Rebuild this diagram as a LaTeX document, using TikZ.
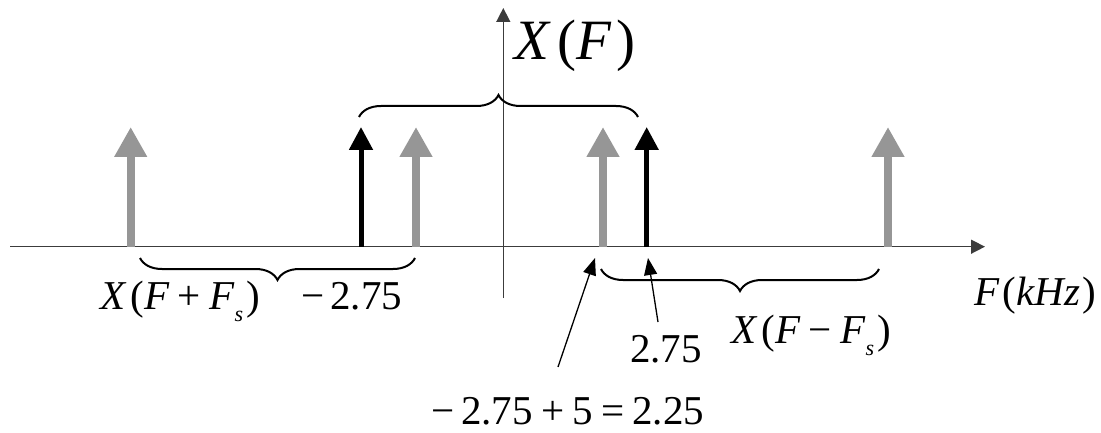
\documentclass[tikz,border=0pt]{standalone}
\usepackage{fontspec}
\setmainfont{Liberation Serif}
\usetikzlibrary{arrows.meta,decorations.pathreplacing}
\definecolor{stemgray}{RGB}{150,150,150}
\definecolor{axisgray}{RGB}{60,60,60}
\newcommand{\fsub}{\raisebox{-0.3em}{\fontsize{22}{22}\selectfont\textit{s}}}
\newcommand{\mminus}{\hspace{0.2em}−\hspace{0.2em}}
\newcommand{\mplus}{\hspace{0.2em}+\hspace{0.2em}}
\tikzset{
  axisline/.style={draw=axisgray,line width=1.5pt,-{Triangle[width=14pt,length=14pt]}},
  graystem/.style={draw=stemgray,line width=8pt,-{Triangle[width=31pt,length=30pt]}},
  blackstem/.style={draw=black,line width=5pt,-{Triangle[width=23pt,length=23pt]}},
  bracestyle/.style={draw=black,line width=2pt,decorate,decoration={brace,amplitude=22pt}},
  pointer/.style={draw=black,line width=1.3pt,-{Triangle[width=13pt,length=17pt]}},
  lbl/.style={inner sep=0pt,font=\fontsize{41}{41}\selectfont},
  biglbl/.style={inner sep=0pt,font=\fontsize{57}{57}\selectfont}
}
\begin{document}
\begin{tikzpicture}[x=1pt,y=-1pt]
\useasboundingbox (0,0) rectangle (1101,433);
% axes
\coordinate (xs) at (10,246.7);
\coordinate (xe) at (985,246.7);
\coordinate (ys) at (503.3,298);
\coordinate (ye) at (503.3,8);
\draw[axisline] (xs) -- (xe);
\draw[axisline] (ys) -- (ye);
% stems
\foreach \n/\x in {g1/130.7,g2/416,g3/603,g4/888}{
  \coordinate (\n b) at (\x,246.7);
  \coordinate (\n t) at (\x,127);
  \draw[graystem] (\n b) -- (\n t);
}
\foreach \n/\x in {k1/361,k2/646.7}{
  \coordinate (\n b) at (\x,246.7);
  \coordinate (\n t) at (\x,127);
  \draw[blackstem] (\n b) -- (\n t);
}
% braces
\coordinate (tb1) at (359,117);
\coordinate (tb2) at (638,117);
\draw[bracestyle] (tb1) -- (tb2);
\coordinate (lb1) at (140,258);
\coordinate (lb2) at (415,258);
\draw[bracestyle] (lb2) -- (lb1);
\coordinate (rb1) at (601,269);
\coordinate (rb2) at (879,269);
\draw[bracestyle] (rb2) -- (rb1);
% labels
\node[biglbl,anchor=base west] (xf) at (514,60) {\textit{X}\hspace{0.12em}(\textit{F}\hspace{0.08em})};
\node[lbl,anchor=base west] (xfp) at (100,309) {\textit{X}\hspace{0.1em}(\textit{F}\mplus\textit{F}\fsub\hspace{0.08em})};
\node[lbl,anchor=base west] (m275) at (301,309) {−\hspace{0.15em}2.75};
\node[lbl,anchor=base] (p275) at (666,362) {2.75};
\node[lbl,anchor=base] (sum) at (568,424) {−\hspace{0.15em}2.75\mplus5\hspace{0.2em}=\hspace{0.2em}2.25};
\node[lbl,anchor=base west] (xfm) at (731,343) {\textit{X}\hspace{0.1em}(\textit{F}\mminus\textit{F}\fsub\hspace{0.08em})};
\node[lbl,anchor=base west] (fk) at (974,305) {\textit{F}\hspace{0.08em}(\textit{kHz}\hspace{0.05em})};
% pointers
\coordinate (pa) at (558,367);
\coordinate (pat) at (595,258);
\coordinate (pb) at (658,322);
\coordinate (pbt) at (648,258);
\draw[pointer] (pa) -- (pat);
\draw[pointer] (pb) -- (pbt);
\end{tikzpicture}
\end{document}
